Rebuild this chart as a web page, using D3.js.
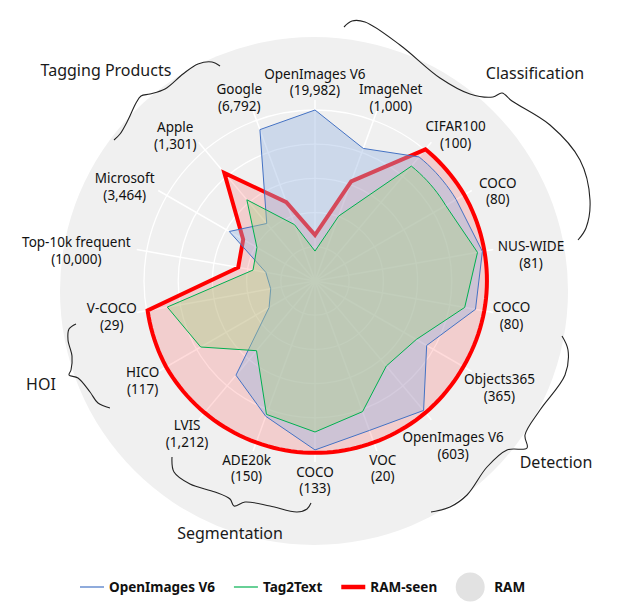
<!DOCTYPE html>
<html>
<head>
<meta charset="utf-8">
<script src="https://cdn.jsdelivr.net/npm/d3@7"></script>
<style>
  body { margin: 0; background: #fff; }
  text { font-family: "Noto Sans", "Open Sans", sans-serif; }
</style>
</head>
<body>
<svg id="chart" width="628" height="606"></svg>
<script>
// axes, clockwise from the top
const axisNames = ["OpenImages V6", "ImageNet", "CIFAR100", "COCO", "NUS-WIDE", "COCO",
  "Objects365", "OpenImages V6", "VOC", "COCO", "ADE20k", "LVIS", "HICO", "V-COCO",
  "Top-10k frequent", "Microsoft", "Apple", "Google"];
const axisCounts = ["19,982", "1,000", "100", "80", "81", "80", "365", "603", "20", "133",
  "150", "1,212", "117", "29", "10,000", "3,464", "1,301", "6,792"];

// series values (outer ring = 100)
const openImagesV6 = [100, 82.5, 94.7, 95.3, 99.4, 95.3, 75.4, 98.8, 93, 98.8, 84.2, 71.9, 31, 26.3, 29.2, 57.9, 43.9, 94.2];
const tag2Text = [17.5, 40.4, 87.7, 88.3, 96.5, 88.9, 68.4, 64.9, 81.3, 88.3, 83, 53.2, 77.2, 87.7, 36.8, 39.2, 62, 35.1];
const ramSeen = [26.9, 62, 100.5, 100.8, 100.6, 100.5, 100.2, 100.5, 100.5, 100.5, 100.5, 100.5, 100.5, 99.4, 45.6, 48.5, 82.5, 49.1];

const ringTicks = [20, 40, 60, 80, 100];
const groupNames = ["Tagging Products", "Classification", "Detection", "Segmentation", "HOI"];
const legendNames = ["OpenImages V6", "Tag2Text", "RAM-seen", "RAM"];

const svg = d3.select("#chart");
const cx = 315, cy = 281, outerR = 171;
const step = 2 * Math.PI / axisNames.length;

const r = d3.scaleLinear().domain([0, 100]).range([0, outerR]);

// RAM: the big grey disc behind everything
svg.append("circle")
  .attr("cx", 314).attr("cy", 291).attr("r", 254)
  .attr("fill", "#f0f0f0");

const g = svg.append("g").attr("transform", `translate(${cx},${cy})`);

// grid rings + spokes
g.selectAll(".ring")
  .data(ringTicks)
  .join("circle")
  .attr("class", "ring")
  .attr("r", d => r(d))
  .attr("fill", "none")
  .attr("stroke", "#fff")
  .attr("stroke-width", 1.3);

g.selectAll(".spoke")
  .data(axisNames)
  .join("line")
  .attr("class", "spoke")
  .attr("x1", 0).attr("y1", 0)
  .attr("x2", (d, i) => Math.sin(i * step) * (outerR + 10))
  .attr("y2", (d, i) => -Math.cos(i * step) * (outerR + 10))
  .attr("stroke", "#fff")
  .attr("stroke-width", 1.5);

// segments between (nearly) equal values follow the ring, others are straight
const radar = values => {
  const pts = [];
  const n = values.length;
  values.forEach((v0, i) => {
    const v1 = values[(i + 1) % n];
    const k = Math.abs(v1 - v0) < 2 ? 10 : 1;
    for (let j = 0; j < k; j++) {
      const t = j / k;
      pts.push([(i + t) * step, r(v0 + (v1 - v0) * t)]);
    }
  });
  return d3.lineRadial().curve(d3.curveLinearClosed)(pts);
};

const series = [
  { values: ramSeen, fill: "rgba(255,0,0,0.14)", stroke: "#ff0000", width: 4 },
  { values: openImagesV6, fill: "rgba(150,180,225,0.4)", stroke: "#4472c4", width: 1 },
  { values: tag2Text, fill: "rgba(170,210,140,0.42)", stroke: "#00b050", width: 1 }
];

series.forEach(s => {
  g.append("path")
    .attr("d", radar(s.values))
    .attr("fill", s.fill)
    .attr("stroke", s.stroke)
    .attr("stroke-width", s.width)
    .attr("stroke-linejoin", "miter");
});

// axis labels; wide ones on the sides get pushed further out,
// the upper side ones sit a little lower and wider
axisNames.forEach((name, i) => {
  const a = i * step;
  const t = g.append("text")
    .attr("text-anchor", "middle")
    .attr("font-size", 13.5)
    .attr("fill", "#111");
  t.append("tspan").attr("x", 0).attr("dy", "-0.25em").text(name);
  t.append("tspan").attr("x", 0).attr("dy", "1.25em").text("(" + axisCounts[i] + ")");
  const b = t.node().getBBox();
  const hw = b.width / 2;
  const mx = b.x + hw, my = b.y + b.height / 2;
  const rr = 199 + Math.max(0, Math.abs(Math.sin(a)) * hw - 18) * 1.1;
  const upper = Math.cos(a) > 0.01;
  const drop = upper ? 11 * Math.abs(Math.sin(a)) : 0;
  const push = upper ? 12 * Math.abs(Math.sin(2 * a)) * Math.sign(Math.sin(a)) : 0;
  t.attr("transform", `translate(${Math.sin(a) * rr - mx + push},${-Math.cos(a) * rr - my + drop})`);
});

// group braces + names
const braceLine = d3.line().curve(d3.curveCatmullRom.alpha(0.5));
const groupLayout = [
  { label: [106, 76], pts: [[220, 66], [212, 62], [198, 64], [183, 74], [165, 89], [150, 94], [141, 96], [136, 103], [128, 120], [120, 134], [114, 140]] },
  { label: [535, 79], pts: [[344, 27], [352, 21], [365, 22], [400, 45], [440, 78], [470, 94], [493, 97], [502, 93], [512, 101], [550, 125], [580, 160], [590, 200], [586, 228], [578, 240]] },
  { label: [556, 468], pts: [[562, 336], [568, 350], [565, 375], [540, 410], [525, 435], [527, 448], [507, 450], [487, 467], [467, 495], [450, 507], [431, 512]] },
  { label: [230, 539], pts: [[172, 457], [174, 472], [190, 484], [215, 492], [230, 499], [234, 506], [245, 502], [270, 506], [297, 512], [307, 509], [311, 503]] },
  { label: [41, 390], pts: [[76, 324], [69, 329], [68, 340], [72, 356], [71, 370], [69, 375], [78, 378], [90, 392], [98, 403], [110, 408]] }
];
groupLayout.forEach((gl, i) => {
  svg.append("path")
    .attr("d", braceLine(gl.pts))
    .attr("fill", "none")
    .attr("stroke", "#222")
    .attr("stroke-width", 1.1);
  svg.append("text")
    .attr("x", gl.label[0]).attr("y", gl.label[1])
    .attr("text-anchor", "middle")
    .attr("font-size", 16)
    .attr("fill", "#1a1a1a")
    .text(groupNames[i]);
});

// legend
const legend = svg.append("g").attr("transform", "translate(0,587)");
const legendSym = [
  { type: "line", color: "#4472c4", width: 1.2 },
  { type: "line", color: "#00b050", width: 1.2 },
  { type: "line", color: "#ff0000", width: 4.5 },
  { type: "dot", color: "#e2e2e2" }
];
let lx = 80;
legendNames.forEach((name, i) => {
  const s = legendSym[i];
  if (s.type === "line") {
    legend.append("line")
      .attr("x1", lx).attr("x2", lx + 24).attr("y1", 0).attr("y2", 0)
      .attr("stroke", s.color).attr("stroke-width", s.width);
    lx += 29;
  } else {
    legend.append("circle").attr("cx", lx + 14).attr("cy", 0).attr("r", 14.5).attr("fill", s.color);
    lx += 38;
  }
  const t = legend.append("text")
    .attr("x", lx).attr("y", 5)
    .attr("font-size", 13.5)
    .attr("font-weight", "bold")
    .attr("fill", "#111")
    .text(name);
  lx += t.node().getComputedTextLength() + 19;
});
</script>
</body>
</html>
